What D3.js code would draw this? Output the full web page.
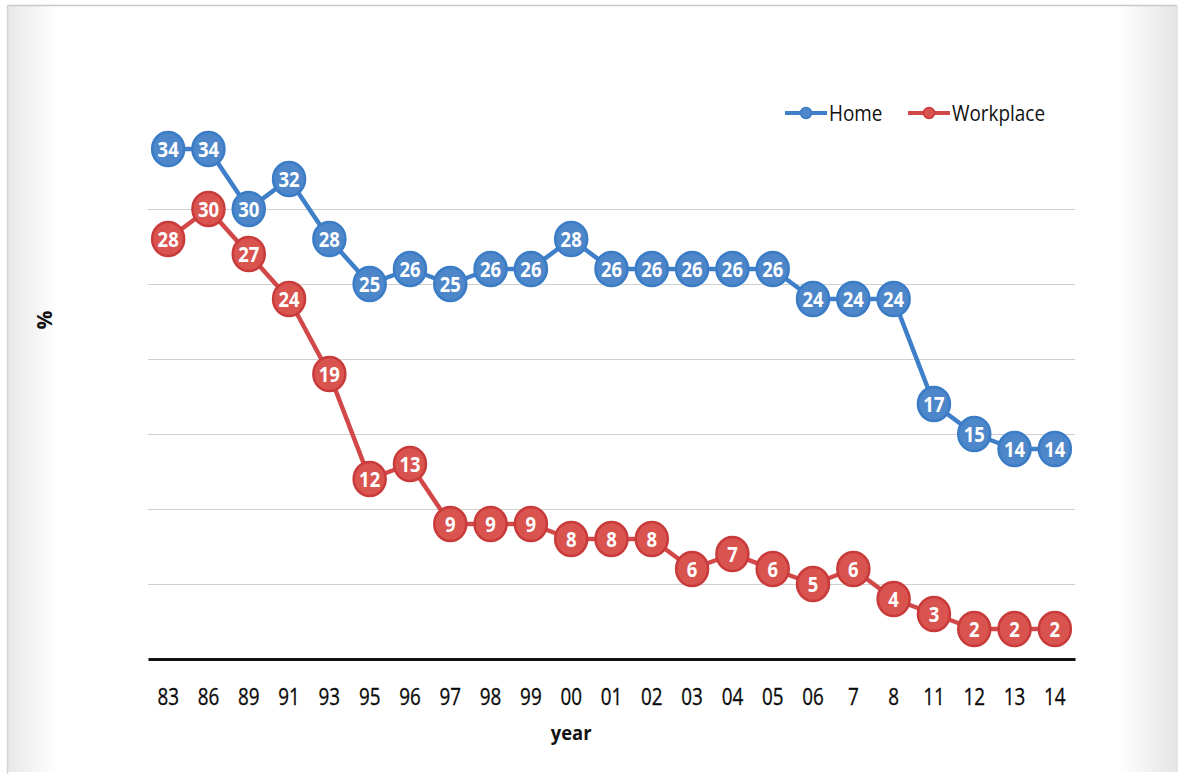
<!DOCTYPE html>
<html>
<head>
<meta charset="utf-8">
<script src="https://cdn.jsdelivr.net/npm/d3@7/dist/d3.min.js"></script>
<style>
  html, body { margin: 0; padding: 0; background: #fff; }
  svg { display: block; }
</style>
</head>
<body>
<svg id="chart" width="1182" height="778"></svg>
<script>
// Survey years (two-digit labels as printed on the axis)
const years = ["83","86","89","91","93","95","96","97","98","99","00","01","02","03","04","05","06","7","8","11","12","13","14"];
// Share (%) reporting exposure at home
const homeValues = [34,34,30,32,28,25,26,25,26,26,28,26,26,26,26,26,24,24,24,17,15,14,14];
// Share (%) reporting exposure at the workplace
const workValues = [28,30,27,24,19,12,13,9,9,9,8,8,8,6,7,6,5,6,4,3,2,2,2];
const gridTicks = [5,10,15,20,25,30];

const W = 1182, H = 778;
const margin = {left: 148, right: 107, top: 134, bottom: 119};
const FONT = "'Open Sans', sans-serif";
const svg = d3.select("#chart");

// soft grey shading along the page edges
const defs = svg.append("defs");
const lg = defs.append("linearGradient").attr("id","edgeL").attr("x1","0").attr("x2","1");
lg.append("stop").attr("offset","0").attr("stop-color","#e8e8e8");
lg.append("stop").attr("offset","1").attr("stop-color","#ffffff");
const rg = defs.append("linearGradient").attr("id","edgeR").attr("x1","0").attr("x2","1");
rg.append("stop").attr("offset","0").attr("stop-color","#ffffff");
rg.append("stop").attr("offset","1").attr("stop-color","#e4e4e4");
svg.append("rect").attr("x",0).attr("y",0).attr("width",W).attr("height",H).attr("fill","#fff");
svg.append("rect").attr("x",8).attr("y",6).attr("width",50).attr("height",H-12).attr("fill","url(#edgeL)");
svg.append("rect").attr("x",1118).attr("y",6).attr("width",60).attr("height",H-12).attr("fill","url(#edgeR)");
svg.append("line").attr("x1",7).attr("x2",1177).attr("y1",5.5).attr("y2",5.5).attr("stroke","#c8c8c8").attr("stroke-width",1.5);
svg.append("line").attr("x1",7.5).attr("x2",7.5).attr("y1",5).attr("y2",H-4).attr("stroke","#d4d4d4").attr("stroke-width",1.5);

const x = d3.scaleBand().domain(years).range([margin.left, W - margin.right]).padding(0);
const y = d3.scaleLinear().domain([0, 35]).range([H - margin.bottom, margin.top]);
const cx = d => x(d) + x.bandwidth() / 2;

// horizontal gridlines
svg.append("g").selectAll("line").data(gridTicks).join("line")
  .attr("x1", margin.left).attr("x2", W - margin.right)
  .attr("y1", d => Math.round(y(d)) + 0.5).attr("y2", d => Math.round(y(d)) + 0.5)
  .attr("stroke", "#cfcfcf").attr("stroke-width", 1);

// baseline and category labels
const xAxis = d3.axisBottom(x).tickSize(0).tickPadding(30);
const gx = svg.append("g").attr("transform", `translate(0,${y(0)})`).call(xAxis);
gx.select(".domain").attr("stroke", "#111").attr("stroke-width", 3.2);
gx.selectAll(".tick text").attr("font-family", FONT).attr("font-size", 23).attr("fill", "#0a0a0a")
  .attr("stroke", "#0a0a0a").attr("stroke-width", 0.3)
  .attr("transform", "scale(0.82,1)");

svg.append("text").attr("x", cx("00")).attr("y", 740).attr("text-anchor", "middle")
  .attr("font-family", FONT).attr("font-size", 20).attr("font-weight", "bold").attr("fill", "#111")
  .attr("transform", `translate(${cx("00")},0) scale(0.92,1) translate(${-cx("00")},0)`)
  .text("year");
svg.append("text").attr("transform", "translate(52,320) rotate(-90)").attr("text-anchor", "middle")
  .attr("font-family", FONT).attr("font-size", 21).attr("font-weight", "bold").attr("fill", "#111")
  .text("%");

const series = [
  {name: "Home", values: homeValues, line: "#3f7fc9", fill: "#4d87c9", stroke: "#3a7cc6"},
  {name: "Workplace", values: workValues, line: "#d24848", fill: "#d9534f", stroke: "#c93b3b"}
];

const lineGen = d3.line().x(d => cx(d.year)).y(d => y(d.v));

series.forEach(s => {
  const pts = years.map((yr, i) => ({year: yr, v: s.values[i]}));
  const g = svg.append("g");
  g.append("path").datum(pts).attr("d", lineGen)
    .attr("fill", "none").attr("stroke", s.line).attr("stroke-width", 4.5).attr("stroke-linejoin", "round");
  const m = g.selectAll("g.pt").data(pts).join("g").attr("class", "pt")
    .attr("transform", d => `translate(${cx(d.year)},${y(d.v)})`);
  m.append("ellipse").attr("rx", 16).attr("ry", 17)
    .attr("fill", s.fill).attr("stroke", s.stroke).attr("stroke-width", 2.5);
  m.append("text").attr("text-anchor", "middle").attr("dy", "0.36em")
    .attr("font-family", FONT).attr("font-weight", "bold").attr("font-size", 21.5)
    .attr("transform", "scale(0.86,1)")
    .attr("fill", "#fff")
    .text(d => d.v);
});

// legend
const legend = svg.append("g").attr("transform", "translate(785,113)");
const legendItems = [{s: series[0], x: 0}, {s: series[1], x: 123}];
legendItems.forEach(it => {
  const lgi = legend.append("g").attr("transform", `translate(${it.x},0)`);
  lgi.append("line").attr("x1", 0).attr("x2", 42).attr("y1", 0).attr("y2", 0)
    .attr("stroke", it.s.line).attr("stroke-width", 4);
  lgi.append("circle").attr("cx", 21).attr("cy", 0).attr("r", 5.5)
    .attr("fill", it.s.fill).attr("stroke", it.s.stroke).attr("stroke-width", 1.5);
  lgi.append("text").attr("x", 44).attr("dy", "0.36em")
    .attr("font-family", FONT).attr("font-size", 22).attr("fill", "#111")
    .attr("transform", "translate(44,0) scale(0.86,1) translate(-44,0)")
    .text(it.s.name);
});
</script>
</body>
</html>
